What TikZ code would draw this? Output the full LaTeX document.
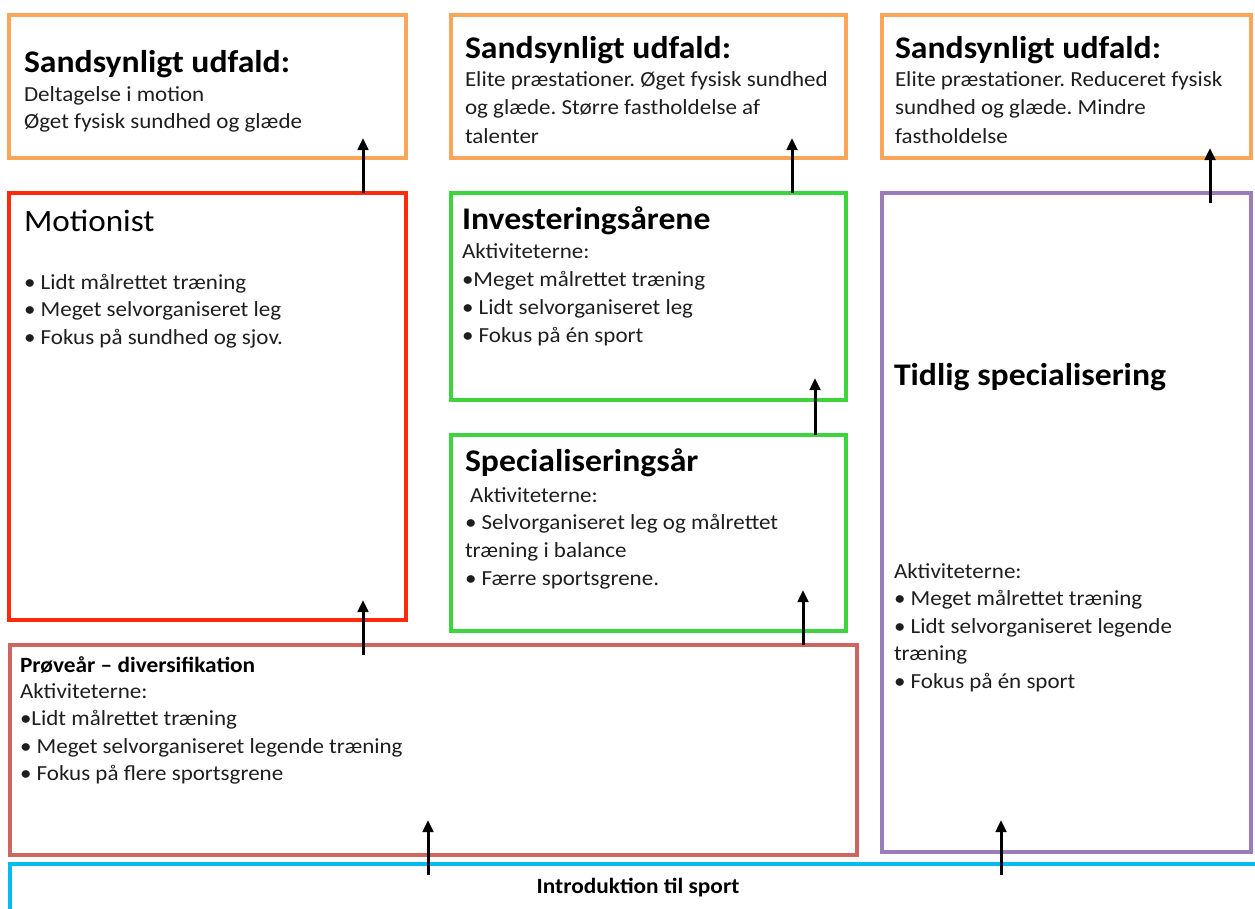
\documentclass[tikz,border=0pt]{standalone}
\usepackage{fontspec}
\setmainfont{Carlito}[FakeStretch=1.07]
\usetikzlibrary{arrows.meta}
\frenchspacing

\definecolor{outcomeorange}{HTML}{F9A65A}
\definecolor{exerciser}{HTML}{FF2A0A}
\definecolor{investgreen}{HTML}{3DD43D}
\definecolor{earlypurple}{HTML}{9A7DB8}
\definecolor{samplingred}{HTML}{CD6560}
\definecolor{introblue}{HTML}{00BDEE}
\definecolor{bodytext}{HTML}{1E1E1E}

\newcommand{\bodyfont}{\fontsize{21.5}{27.5}\selectfont}
\newcommand{\headfont}{\fontsize{31.5}{36}\selectfont\bfseries}
\newcommand{\smallhead}{\fontsize{21.8}{26}\selectfont\bfseries}
% a block of left-aligned lines whose baseline is the first line's
\newcommand{\linesblock}[2]{{\fontsize{21.5}{#1}\selectfont\begin{tabular}[t]{@{}l@{}}#2\end{tabular}}}

\begin{document}
\begin{tikzpicture}[x=1pt,y=-1pt,
  frame/.style={draw=#1, line width=4pt, inner sep=0pt, outer sep=0pt,
                anchor=north west, rectangle},
  txt/.style={anchor=base west, inner sep=0pt, outer sep=0pt, text=bodytext,
              font=\bodyfont},
  head/.style={anchor=base west, inner sep=0pt, outer sep=0pt, text=black,
               font=\headfont},
  arr/.style={line width=3pt, black,
              -{Triangle[length=12pt,width=10.5pt]}}]
\useasboundingbox (0,0) rectangle (1255,908);

% ---- outcome boxes (top row)
\node[frame=outcomeorange, minimum width=397pt, minimum height=143pt] (out1) at (9,15) {};
\node[frame=outcomeorange, minimum width=395pt, minimum height=143pt] (out2) at (451,15) {};
\node[frame=outcomeorange, minimum width=369pt, minimum height=143pt] (out3) at (882,15) {};

% ---- pathway boxes
\node[frame=exerciser, line width=4.5pt, minimum width=397pt, minimum height=427pt] (motion) at (9,193) {};
\node[frame=investgreen, line width=3.5pt, minimum width=395pt, minimum height=207pt] (invest) at (451,193) {};
\node[frame=investgreen, line width=3.5pt, minimum width=395pt, minimum height=196pt] (spec) at (451,435) {};
\node[frame=earlypurple, minimum width=369pt, minimum height=659pt] (early) at (882,193) {};
\node[frame=samplingred, minimum width=847pt, minimum height=210pt] (sample) at (10,645) {};
\node[frame=introblue, minimum width=1280pt, minimum height=80pt] (intro) at (10,864) {};

% ---- texts of the outcome boxes
\node[head] (t1) at (24,72) {Sandsynligt udfald:};
\node[txt] (b1) at (24,101) {\linesblock{27}{Deltagelse i motion\\Øget fysisk sundhed og glæde}};
\node[head] (t2) at (465,58) {Sandsynligt udfald:};
\node[txt] (b2) at (465,86) {\linesblock{28.5}{Elite præstationer. Øget fysisk sundhed\\og glæde. Større fastholdelse af\\talenter}};
\node[head] (t3) at (895,58) {Sandsynligt udfald:};
\node[txt] (b3) at (895,86) {\linesblock{28.5}{Elite præstationer. Reduceret fysisk\\sundhed og glæde. Mindre\\fastholdelse}};

% ---- texts of the pathway boxes
\node[head, font=\fontsize{31}{36}\selectfont] (tm) at (24,231) {Motionist};
\node[txt] (bm) at (24,289) {\linesblock{27.5}{• Lidt målrettet træning\\• Meget selvorganiseret leg\\• Fokus på sundhed og sjov.}};

\node[head] (ti) at (462,229) {Investeringsårene};
\node[txt] (bi) at (462,258) {\linesblock{28}{Aktiviteterne:\\•Meget målrettet træning\\• Lidt selvorganiseret leg\\• Fokus på én sport}};

\node[head] (ts) at (465,471) {Specialiseringsår};
\node[txt] (bs) at (465,502) {\linesblock{27.8}{\ Aktiviteterne:\\• Selvorganiseret leg og målrettet\\træning i balance\\• Færre sportsgrene.}};

\node[head] (te) at (894,385) {Tidlig specialisering};
\node[txt] (be) at (894,578) {\linesblock{27.5}{Aktiviteterne:\\• Meget målrettet træning\\• Lidt selvorganiseret legende\\træning\\• Fokus på én sport}};

\node[head, font=\smallhead] (tp) at (20,672) {Prøveår – diversifikation};
\node[txt] (bp) at (20,698) {\linesblock{27.5}{Aktiviteterne:\\•Lidt målrettet træning\\• Meget selvorganiseret legende træning\\• Fokus på flere sportsgrene}};

\node[anchor=base, inner sep=0pt, font=\smallhead] (ti2) at (638,893) {Introduktion til sport};

% ---- arrow end points
\coordinate (a1s) at (motion.north -| 363,0);  \coordinate (a1e) at (363,138);
\coordinate (a2s) at (invest.north -| 792,0);  \coordinate (a2e) at (792,138);
\coordinate (a3s) at (1210,203);               \coordinate (a3e) at (1210,148);
\coordinate (a4s) at (spec.north -| 815,0);    \coordinate (a4e) at (815,378);
\coordinate (a5s) at (sample.north -| 803,0);  \coordinate (a5e) at (803,590);
\coordinate (a6s) at (363,655);                \coordinate (a6e) at (363,600);
\coordinate (a7s) at (428,875);                \coordinate (a7e) at (428,820);
\coordinate (a8s) at (1001,875);               \coordinate (a8e) at (1001,820);

\draw[arr] (a1s) -- (a1e);
\draw[arr] (a2s) -- (a2e);
\draw[arr] (a3s) -- (a3e);
\draw[arr] (a4s) -- (a4e);
\draw[arr] (a5s) -- (a5e);
\draw[arr] (a6s) -- (a6e);
\draw[arr] (a7s) -- (a7e);
\draw[arr] (a8s) -- (a8e);
\end{tikzpicture}
\end{document}
